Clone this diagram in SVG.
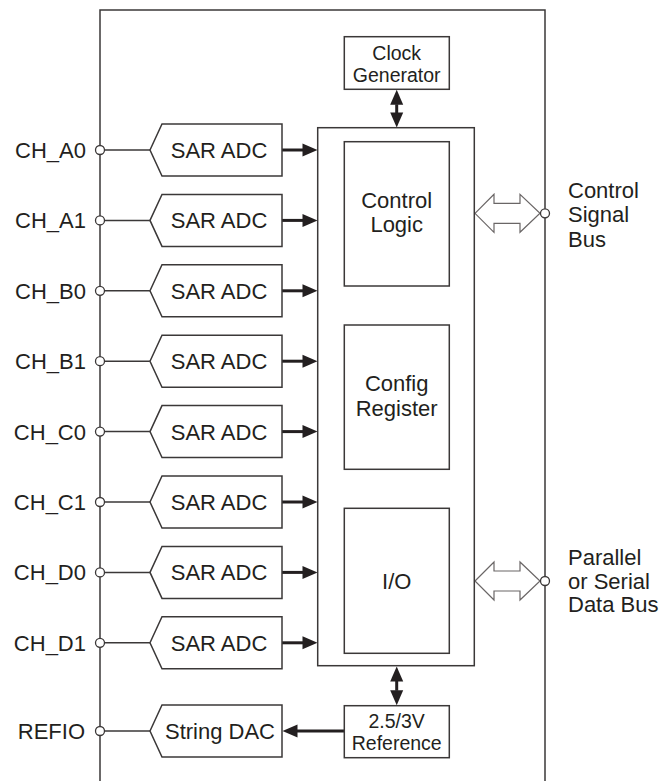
<svg xmlns="http://www.w3.org/2000/svg" width="659" height="781" viewBox="0 0 659 781">
<style>
.ln{fill:none;stroke:#3b3838;stroke-width:1.5}
.box{fill:#fff;stroke:#3b3838;stroke-width:1.5}
.pin{fill:#fff;stroke:#3b3838;stroke-width:1.3}
.bus{fill:#fff;stroke:#6a6666;stroke-width:1.2}
.arr{fill:none;stroke:#231f20;stroke-width:3}
.t{font-family:"Liberation Sans",Arial,sans-serif;font-size:22px;fill:#231f20}
.s{font-size:19.5px}
.m{text-anchor:middle}
.e{text-anchor:end}
</style>
<defs>
<marker id="ah" viewBox="0 0 15 13" refX="0.5" refY="6.5" markerWidth="15" markerHeight="13" markerUnits="userSpaceOnUse" orient="auto-start-reverse" overflow="visible">
<path d="M0,0 L15,6.5 L0,13 z" fill="#231f20"/>
</marker>
<path id="adc" d="M0,0 L12,-26 L132,-26 L132,26 L12,26 z"/>
<path id="busarrow" d="M475,0 L494,-19 L494,-10 L520,-10 L520,-19 L540,0 L520,19 L520,10 L494,10 L494,19 z"/>
</defs>

<g id="outer"><path class="ln" d="M100,781 V10 H545 V781"/></g>

<g id="connectors">
<path class="ln" d="M100,150 H150 M100,220.4 H150 M100,290.8 H150 M100,361.2 H150 M100,431.6 H150 M100,502 H150 M100,572.4 H150 M100,642.8 H150 M100,731 H150"/>
<line class="arr" x1="282" y1="150" x2="303" y2="150" marker-end="url(#ah)"/>
<line class="arr" x1="282" y1="220.4" x2="303" y2="220.4" marker-end="url(#ah)"/>
<line class="arr" x1="282" y1="290.8" x2="303" y2="290.8" marker-end="url(#ah)"/>
<line class="arr" x1="282" y1="361.2" x2="303" y2="361.2" marker-end="url(#ah)"/>
<line class="arr" x1="282" y1="431.6" x2="303" y2="431.6" marker-end="url(#ah)"/>
<line class="arr" x1="282" y1="502" x2="303" y2="502" marker-end="url(#ah)"/>
<line class="arr" x1="282" y1="572.4" x2="303" y2="572.4" marker-end="url(#ah)"/>
<line class="arr" x1="282" y1="642.8" x2="303" y2="642.8" marker-end="url(#ah)"/>
<line class="arr" x1="344" y1="731" x2="297" y2="731" marker-end="url(#ah)"/>
<line class="arr" x1="396.7" y1="104.3" x2="396.7" y2="113" marker-start="url(#ah)" marker-end="url(#ah)"/>
<line class="arr" x1="396.7" y1="301" x2="396.7" y2="310" marker-start="url(#ah)" marker-end="url(#ah)"/>
<line class="arr" x1="396.7" y1="484.3" x2="396.7" y2="493.3" marker-start="url(#ah)" marker-end="url(#ah)"/>
<line class="arr" x1="396.7" y1="681" x2="396.7" y2="690.7" marker-start="url(#ah)" marker-end="url(#ah)"/>
<use href="#busarrow" class="bus" y="213.3"/>
<use href="#busarrow" class="bus" y="581"/>
</g>

<g id="pins">
<circle class="pin" cx="100" cy="150" r="4.5"/>
<circle class="pin" cx="100" cy="220.4" r="4.5"/>
<circle class="pin" cx="100" cy="290.8" r="4.5"/>
<circle class="pin" cx="100" cy="361.2" r="4.5"/>
<circle class="pin" cx="100" cy="431.6" r="4.5"/>
<circle class="pin" cx="100" cy="502" r="4.5"/>
<circle class="pin" cx="100" cy="572.4" r="4.5"/>
<circle class="pin" cx="100" cy="642.8" r="4.5"/>
<circle class="pin" cx="100" cy="731" r="4.5"/>
<circle class="pin" cx="545" cy="213.3" r="4.5"/>
<circle class="pin" cx="545" cy="581" r="4.5"/>
</g>

<g id="pin-labels">
<text class="t e" x="86" y="158">CH_A0</text>
<text class="t e" x="86" y="228.4">CH_A1</text>
<text class="t e" x="86" y="298.8">CH_B0</text>
<text class="t e" x="86" y="369.2">CH_B1</text>
<text class="t e" x="86" y="439.6">CH_C0</text>
<text class="t e" x="86" y="510">CH_C1</text>
<text class="t e" x="86" y="580.4">CH_D0</text>
<text class="t e" x="86" y="650.8">CH_D1</text>
<text class="t e" x="85" y="739">REFIO</text>
<text class="t" x="568" y="197.5">Control</text>
<text class="t" x="568" y="222">Signal</text>
<text class="t" x="568" y="247">Bus</text>
<text class="t" x="568" y="564.5">Parallel</text>
<text class="t" x="568" y="588.5">or Serial</text>
<text class="t" x="568" y="612">Data Bus</text>
</g>

<g id="adc-a0"><use href="#adc" class="box" x="150" y="150"/><text class="t m" x="219" y="158">SAR ADC</text></g>
<g id="adc-a1"><use href="#adc" class="box" x="150" y="220.4"/><text class="t m" x="219" y="228.4">SAR ADC</text></g>
<g id="adc-b0"><use href="#adc" class="box" x="150" y="290.8"/><text class="t m" x="219" y="298.8">SAR ADC</text></g>
<g id="adc-b1"><use href="#adc" class="box" x="150" y="361.2"/><text class="t m" x="219" y="369.2">SAR ADC</text></g>
<g id="adc-c0"><use href="#adc" class="box" x="150" y="431.6"/><text class="t m" x="219" y="439.6">SAR ADC</text></g>
<g id="adc-c1"><use href="#adc" class="box" x="150" y="502"/><text class="t m" x="219" y="510">SAR ADC</text></g>
<g id="adc-d0"><use href="#adc" class="box" x="150" y="572.4"/><text class="t m" x="219" y="580.4">SAR ADC</text></g>
<g id="adc-d1"><use href="#adc" class="box" x="150" y="642.8"/><text class="t m" x="219" y="650.8">SAR ADC</text></g>
<g id="string-dac"><use href="#adc" class="box" x="150" y="731"/><text class="t m" x="220" y="739">String DAC</text></g>

<g id="clock"><rect class="box" x="344.3" y="36.7" width="105" height="52.6"/>
<text class="t s m" x="396.7" y="60">Clock</text><text class="t s m" x="396.7" y="82">Generator</text></g>

<g id="control-block"><rect class="box" x="317.7" y="127.7" width="156.6" height="538"/></g>

<g id="control-logic"><rect class="box" x="344.3" y="141.7" width="105" height="144.3"/>
<text class="t m" x="396.7" y="207.5">Control</text><text class="t m" x="396.7" y="231.5">Logic</text></g>

<g id="config-register"><rect class="box" x="344.3" y="325" width="105" height="144.3"/>
<text class="t m" x="396.7" y="390.5">Config</text><text class="t m" x="396.7" y="415.5">Register</text></g>

<g id="io"><rect class="box" x="344.3" y="508.3" width="105" height="145"/>
<text class="t m" x="396.7" y="588.5">I/O</text></g>

<g id="reference"><rect class="box" x="344.3" y="705.7" width="105" height="52"/>
<text class="t s m" x="396.7" y="728">2.5/3V</text><text class="t s m" x="396.7" y="750">Reference</text></g>
</svg>
